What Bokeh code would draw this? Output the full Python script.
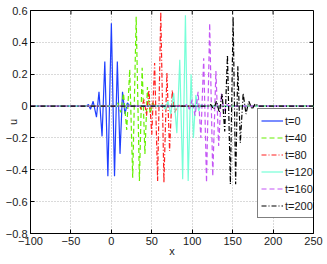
import math
from bokeh.plotting import figure
from bokeh.models import Range1d, FixedTicker, LinearAxis, Legend, LegendItem
from bokeh.embed import file_html
from bokeh.resources import INLINE

# ---- data (extrema of each wave packet) ----
x_t0 = [-100, -31, -28.3, -25.8, -22.5, -18.4, -15.3, -11.5, -8.1, -4.3, 0.0, 3.9, 7.4, 10.7, 13.8, 16.8, 19.8, 23, 250]
u_t0 = [0, 0, 0.01, -0.02, 0.03, -0.07, 0.09, -0.19, 0.28, -0.44, 0.52, -0.44, 0.28, -0.30, 0.09, -0.05, 0.02, 0, 0]

x_t40 = [-100, 5, 8, 11.5, 15, 19, 22.7, 26.4, 30.7, 34.7, 38.1, 41.5, 44.6, 48, 51, 54, 250]
u_t40 = [0, 0, 0.02, -0.04, 0.08, -0.15, 0.23, -0.45, 0.56, -0.47, 0.24, -0.30, 0.12, -0.05, 0.02, 0, 0]

x_t80 = [-100, 32, 34, 37, 40.5, 43.5, 46.5, 50, 53.5, 57.2, 61.1, 65, 68.7, 72, 75.3, 78.5, 82, 85, 250]
u_t80 = [0, 0, 0.01, -0.02, 0.04, -0.06, 0.10, -0.18, 0.27, -0.47, 0.59, -0.48, 0.21, -0.28, 0.10, -0.04, 0.01, 0, 0]

x_t120 = [-100, 61, 63, 66.5, 70, 73.5, 77.1, 81, 84.6, 88.2, 91.6, 95, 98.6, 101.5, 104.5, 108, 111, 114, 250]
u_t120 = [0, 0, 0.01, -0.02, 0.03, -0.05, 0.08, -0.17, 0.29, -0.46, 0.57, -0.47, 0.20, -0.20, 0.07, -0.03, 0.01, 0, 0]

x_t160 = [-100, 91, 93, 96.5, 100, 103.5, 107.3, 110.7, 114.2, 117.7, 121.6, 125.4, 129.3, 132.7, 136, 139.5, 143, 146, 250]
u_t160 = [0, 0, 0.01, -0.02, 0.04, -0.06, 0.09, -0.20, 0.30, -0.48, 0.52, -0.44, 0.22, -0.25, 0.08, -0.03, 0.01, 0, 0]

x_t200 = [-100, 121, 123, 126.5, 130, 133.5, 137, 140.2, 143.6, 147.2, 150.6, 153.7, 156.4, 159.5, 163, 166.5, 170, 174, 178, 182, 250]
u_t200 = [0, 0, 0.01, -0.02, 0.03, -0.04, 0.075, -0.16, 0.32, -0.49, 0.56, -0.49, 0.25, -0.23, 0.08, -0.05, 0.03, -0.02, 0.015, 0, 0]

series_labels = ["t=0", "t=40", "t=80", "t=120", "t=160", "t=200"]
x_ticks = [-100, -50, 0, 50, 100, 150, 200, 250]
y_ticks = [-0.8, -0.6, -0.4, -0.2, 0, 0.2, 0.4, 0.6]
y_tick_labels = ["\u22120.8", "\u22120.6", "\u22120.4", "\u22120.2", "0", "0.2", "0.4", "0.6"]
x_tick_labels = ["\u2212100", "\u221250", "0", "50", "100", "150", "200", "250"]

FONT = "Liberation Sans"
TXT = "#1a1a1a"
X_MIN, X_MAX, Y_MIN, Y_MAX = -100, 250, -0.8, 0.6

p = figure(width=327, height=264, output_backend="svg", toolbar_location=None,
           x_range=Range1d(X_MIN, X_MAX), y_range=Range1d(Y_MIN, Y_MAX),
           min_border_left=30, min_border_right=14, min_border_top=10, min_border_bottom=31,
           x_axis_location=None, y_axis_location=None)
p.background_fill_color = "white"
p.border_fill_color = "white"
p.outline_line_color = "#000000"
p.outline_line_width = 1

def style_axis(ax, ticks, labels):
    ax.ticker = FixedTicker(ticks=ticks)
    ax.major_label_overrides = {t: l for t, l in zip(ticks, labels)}
    ax.minor_tick_line_color = None
    ax.major_tick_in = 4
    ax.major_tick_out = 0
    ax.axis_line_color = "#000000"
    ax.major_tick_line_color = "#000000"
    ax.major_label_text_font = FONT
    ax.major_label_text_color = TXT
    ax.major_label_text_font_size = "11px"
    ax.major_label_standoff = 3
    ax.axis_label_text_font = FONT
    ax.axis_label_text_font_size = "11px"
    ax.axis_label_text_font_style = "normal"
    ax.axis_label_text_color = TXT

xb = LinearAxis(axis_label="x"); style_axis(xb, x_ticks, x_tick_labels)
xb.axis_label_standoff = -3
yl = LinearAxis(axis_label="u"); style_axis(yl, y_ticks, y_tick_labels)
yl.axis_label_standoff = -16
p.add_layout(xb, "below")
p.add_layout(yl, "left")

# inward tick marks on the top and right edges (MATLAB box style)
p.ray(x=x_ticks, y=[Y_MAX] * len(x_ticks), length=4, length_units="screen",
      angle=-math.pi / 2, line_color="#000000", line_width=1)
p.ray(x=[X_MAX] * len(y_ticks), y=y_ticks, length=4, length_units="screen",
      angle=math.pi, line_color="#000000", line_width=1)

p.xgrid.ticker = FixedTicker(ticks=x_ticks)
p.ygrid.ticker = FixedTicker(ticks=y_ticks)
for g in (p.xgrid, p.ygrid):
    g.grid_line_color = "#b4b4b4"
    g.grid_line_dash = "1 2"
    g.grid_line_width = 1

xs = [x_t0, x_t40, x_t80, x_t120, x_t160, x_t200]
us = [u_t0, u_t40, u_t80, u_t120, u_t160, u_t200]
colors = ["#1f3fff", "#66f000", "#ff2020", "#77ffd8", "#c455f5", "#000000"]
dashes = ["solid", "5 3", "5 2 1 2", "solid", "5 3", "5 2 1 2"]

items = []
for xv, uv, c, d, lab in zip(xs, us, colors, dashes, series_labels):
    r = p.line(xv, uv, line_color=c, line_width=1.2, line_dash=d)
    items.append(LegendItem(label=lab, renderers=[r]))

legend = Legend(items=items, location=(227, 15), margin=0, padding=3, spacing=0,
                label_height=17, glyph_height=17, glyph_width=22, label_standoff=2,
                label_text_font=FONT, label_text_font_size="11px", label_text_color=TXT,
                border_line_color="#000000", border_line_width=1,
                background_fill_color="white", background_fill_alpha=1)
p.add_layout(legend, "center")

open("out.html", "w").write(file_html(p, INLINE))
